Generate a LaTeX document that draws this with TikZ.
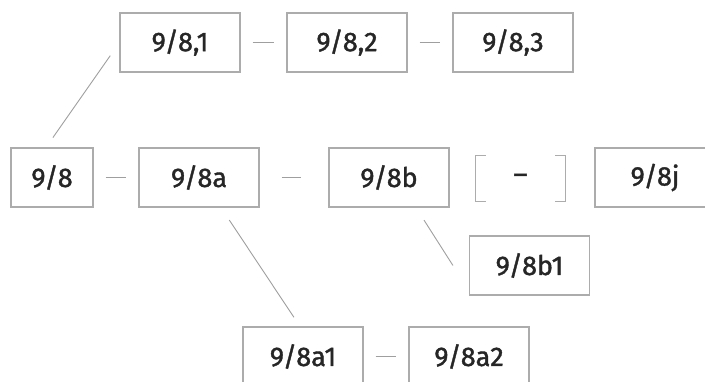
\documentclass[tikz,border=0pt]{standalone}
\usepackage{fontspec}
\setmainfont{Fira Sans}
\newfontfamily\boxfont{Fira Sans}[FakeBold=1.4, Ligatures=TeX]
\usetikzlibrary{calc}

\begin{document}
\begin{tikzpicture}[x=1pt, y=-1pt,
  every node/.style = {font=\boxfont\fontsize{27}{32}\selectfont, text=black!85},
  box/.style = {shape=rectangle, draw=gray!65, line width=1.1pt,
    minimum width=120pt, minimum height=59pt, inner sep=0pt},
  link/.style = {draw=gray!75, line width=0.9pt},
  dashlink/.style = {link, shorten <=12pt, shorten >=12pt}]
  \useasboundingbox (0,0) rectangle (705,381);
  % top row
  \node[box] (n981) at (180,42.5) {9/8,1};
  \node[box] (n982) at (347,42.5) {9/8,2};
  \node[box] (n983) at (513,42.5) {9/8,3};
  % main row
  \node[box, minimum width=82pt] (n98) at (52,177.5) {9/8};
  \node[box] (n98a) at (199,177.5) {9/8a};
  \node[box] (n98b) at (389,177.5) {9/8b};
  \node[minimum width=89pt, minimum height=45pt, inner sep=0pt] (gap) at (520.5,178.5) {--};
  \node[box] (n98j) at (655,177.5) {9/8j};
  % branches
  \node[box] (n98b1) at (529.5,265.5) {9/8b1};
  \node[box] (n98a1) at (303,356.5) {9/8a1};
  \node[box] (n98a2) at (469,356.5) {9/8a2};

  \draw[dashlink] (n981) -- (n982);
  \draw[dashlink] (n982) -- (n983);
  \draw[dashlink] (n98) -- (n98a);
  \draw[dashlink, shorten <=22pt, shorten >=27pt] (n98a) -- (n98b);
  \draw[dashlink] (n98a1) -- (n98a2);
  \draw[link, shorten <=12pt, shorten >=16pt] ([xshift=-6pt]n98.north) -- (n981.west);
  \draw[link, shorten <=15pt, shorten >=11pt] ([xshift=22pt]n98a.south) -- ([xshift=-3pt]n98a1.north);
  \draw[link, shorten <=15pt] ([xshift=27pt]n98b.south) -- ([xshift=-16pt]n98b1.west);
  % brackets round the gap
  \draw[draw=gray!65, line width=1.1pt] ([xshift=10pt]gap.north west) -- (gap.north west)
    -- (gap.south west) -- ([xshift=10pt]gap.south west);
  \draw[draw=gray!65, line width=1.1pt] ([xshift=-10pt]gap.north east) -- (gap.north east)
    -- (gap.south east) -- ([xshift=-10pt]gap.south east);
\end{tikzpicture}
\end{document}
